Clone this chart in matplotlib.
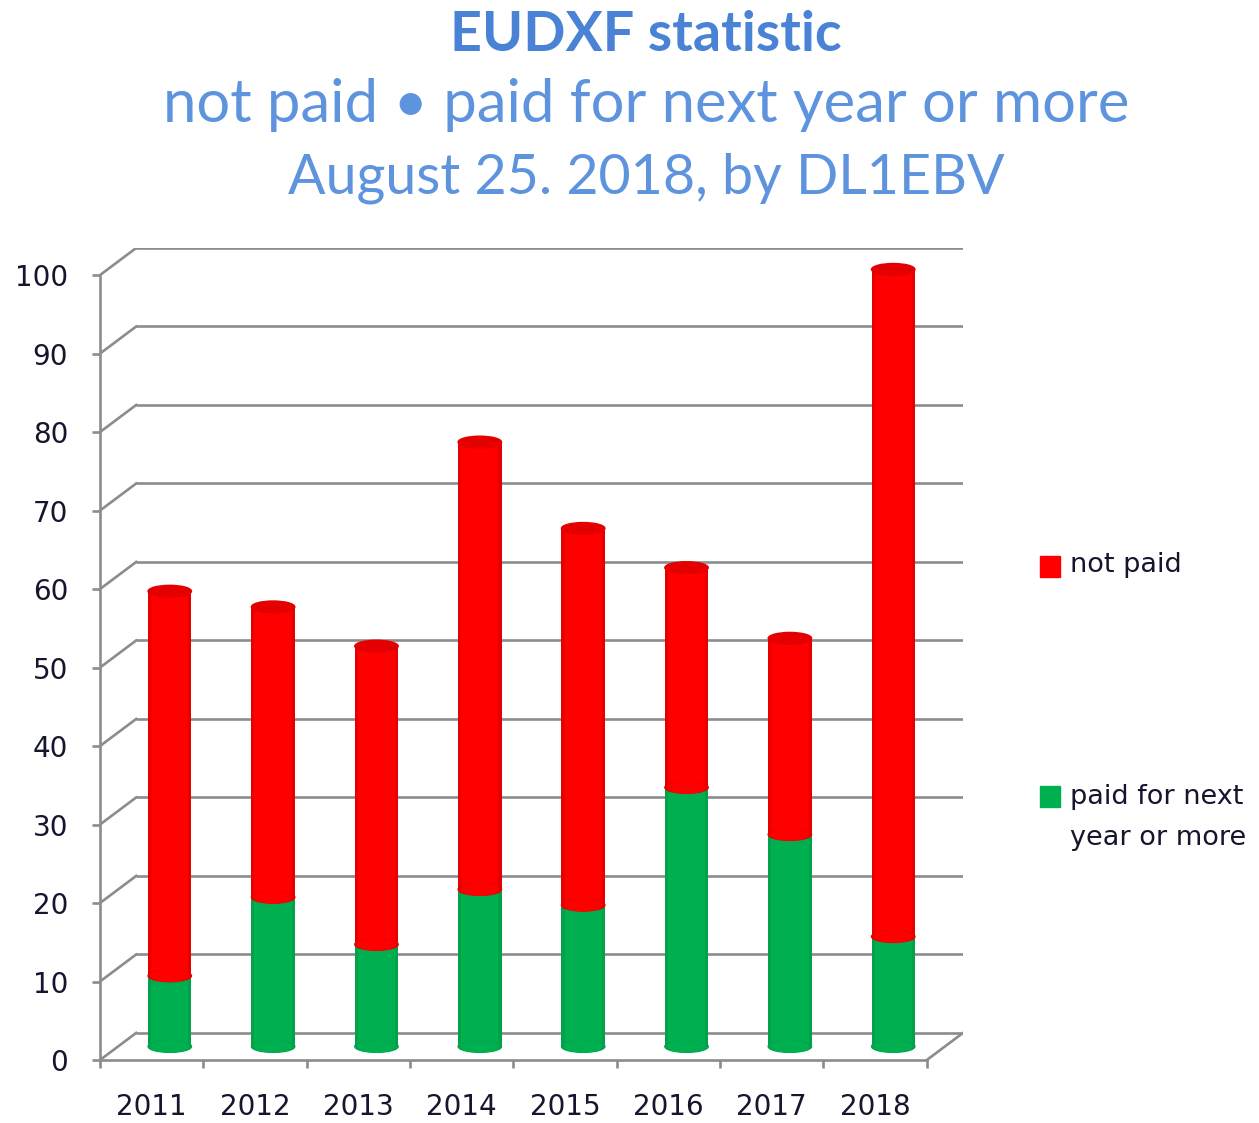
import numpy as np
import matplotlib.pyplot as plt
from matplotlib.patches import Ellipse, Rectangle

years = ["2011", "2012", "2013", "2014", "2015", "2016", "2017", "2018"]
paid_ahead = [9, 19, 13, 20, 18, 33, 27, 14]
not_paid = [49, 37, 38, 57, 48, 28, 25, 85]
y_ticks = list(range(0, 101, 10))

red = "#ff0000"
red_top = "#e40000"
red_edge = "#e60000"
green = "#00b050"
green_edge = "#00a24a"
grid_col = "#8c8c8c"
text_col = "#15152e"
title_col = "#4a82d6"
sub_col = "#5e93dd"

W, H = 1259, 1123
DX = 0.35    # depth of the fake 3d box, x units
DY = 3.45    # same, y units
bar_w = 0.42
cap_h = 1.5

fig = plt.figure(figsize=(W / 100, H / 100), dpi=100)
ax = fig.add_axes([100 / W, 63 / H, 863 / W, 812 / H])
n = len(years)
ax.set_xlim(-0.5, n - 0.5 + DX)
ax.set_ylim(0, 100 + DY)

# back wall gridlines and the diagonals to the front axis
for v in y_ticks:
    ax.plot([-0.5 + DX, n - 0.5 + DX], [v + DY, v + DY], color=grid_col, lw=1.9, zorder=1,
            solid_capstyle="butt")
    ax.plot([-0.5, -0.5 + DX], [v, v + DY], color=grid_col, lw=1.9, zorder=1)
ax.plot([n - 0.5, n - 0.5 + DX], [0, DY], color=grid_col, lw=1.9, zorder=1)

# cylinders sit half way into the box
xc = np.arange(n) + DX / 2
base = DY / 2
bottoms_red = [base + p for p in paid_ahead]
tops = [base + p + q for p, q in zip(paid_ahead, not_paid)]

ax.bar(xc, paid_ahead, width=bar_w, bottom=base, color=green_edge, zorder=3)
ax.bar(xc, paid_ahead, width=bar_w * 0.86, bottom=base, color=green, zorder=3)
for xi in xc:
    ax.add_patch(Ellipse((xi, base), bar_w, cap_h, color=green_edge, zorder=3))
    ax.add_patch(Ellipse((xi, base), bar_w * 0.86, cap_h * 0.95, color=green, zorder=3))
ax.bar(xc, not_paid, width=bar_w, bottom=bottoms_red, color=red_edge, zorder=4)
ax.bar(xc, not_paid, width=bar_w * 0.86, bottom=bottoms_red, color=red, zorder=4)
for xi, b in zip(xc, bottoms_red):
    ax.add_patch(Ellipse((xi, b), bar_w, cap_h, color=red_edge, zorder=4))
    ax.add_patch(Ellipse((xi, b), bar_w * 0.86, cap_h * 0.95, color=red, zorder=4))
for xi, t in zip(xc, tops):
    ax.add_patch(Ellipse((xi, t), bar_w, cap_h, color=red_top, zorder=5))

# front axes
for s in ["top", "right"]:
    ax.spines[s].set_visible(False)
for s in ["left", "bottom"]:
    ax.spines[s].set_color(grid_col)
    ax.spines[s].set_linewidth(1.9)
ax.spines["left"].set_bounds(0, 100)
ax.spines["bottom"].set_bounds(-0.5, n - 0.5)

ax.set_yticks(y_ticks)
ax.set_yticklabels([str(v) for v in y_ticks])
ax.tick_params(axis="y", length=6, width=1.9, color=grid_col, pad=17,
               labelsize=20, labelcolor=text_col)
ax.set_xticks(np.arange(n))
ax.set_xticklabels(years)
ax.set_xticks(np.arange(n + 1) - 0.5, minor=True)
ax.tick_params(axis="x", which="major", length=0, pad=24, labelsize=20, labelcolor=text_col)
ax.tick_params(axis="x", which="minor", length=6, width=1.9, color=grid_col)

# legend, placed by hand like the original
fig.add_artist(Rectangle((1040 / W, 1 - 577 / H), 20 / W, 21 / H,
                         transform=fig.transFigure, color=red))
fig.text(1070 / W, 1 - 565 / H, "not paid", fontsize=19.5, color=text_col, va="center")
fig.add_artist(Rectangle((1040 / W, 1 - 807 / H), 20 / W, 21 / H,
                         transform=fig.transFigure, color=green))
fig.text(1070 / W, 1 - 797 / H, "paid for next", fontsize=19.5, color=text_col, va="center")
fig.text(1070 / W, 1 - 838 / H, "year or more", fontsize=19.5, color=text_col, va="center")

# titles
fig.text(0.513, 1 - 35 / H, "EUDXF statistic", fontsize=40, fontweight="bold",
         color=title_col, ha="center", va="center", family="Lato")
fig.text(0.513, 1 - 105 / H, "not paid \u2022 paid for next year or more", fontsize=43,
         color=sub_col, ha="center", va="center", family="Lato")
fig.text(0.513, 1 - 178 / H, "August 25. 2018, by DL1EBV", fontsize=40,
         color=sub_col, ha="center", va="center", family="Lato")

fig.savefig("out.png", dpi=100)
